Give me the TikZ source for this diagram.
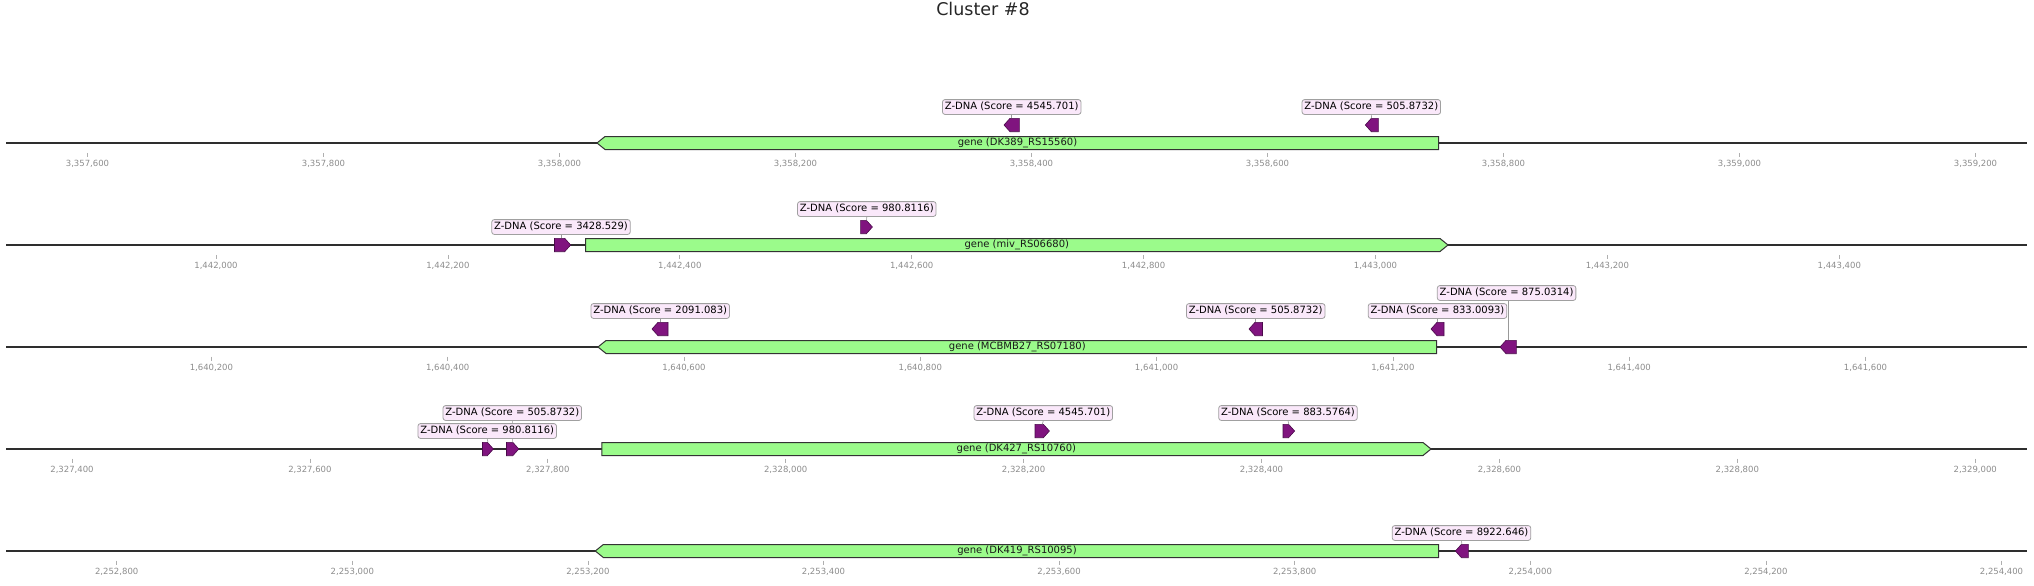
\documentclass[tikz,border=0pt]{standalone}
\usepackage{fontspec}
\setmainfont{DejaVu Sans}
\definecolor{genefill}{HTML}{9BFB8B}
\definecolor{zfill}{HTML}{80147F}
\definecolor{zedge}{HTML}{4A0A4A}
\definecolor{boxfill}{HTML}{FAE8FA}
\definecolor{boxedge}{HTML}{A0A0A0}
\definecolor{tickgray}{HTML}{8C8C8C}
\tikzset{
  axisline/.style = {draw=black!82, line width=1.6pt},
  tickmark/.style = {draw=tickgray!70, line width=0.7pt},
  ticklab/.style  = {font=\fontsize{8.5}{10}\selectfont, text=tickgray, inner sep=0pt},
  gene/.style     = {draw=black!80, fill=genefill, line width=1pt},
  genelab/.style  = {font=\fontsize{10}{12}\selectfont, text=black!90, inner sep=0pt},
  zdna/.style     = {draw=zedge, fill=zfill, line width=0.6pt},
  zlab/.style     = {draw=boxedge, fill=boxfill, rounded corners=2.5pt, line width=0.8pt,
                     font=\fontsize{10}{12}\selectfont, inner sep=2.4pt,
                     text height=7.6pt, text depth=2.4pt},
  lead/.style     = {draw=black!40, line width=0.6pt},
}
\begin{document}
\begin{tikzpicture}[x=1pt,y=-1pt]
  \useasboundingbox (0,0) rectangle (2034,586);
  \node[font=\fontsize{17.5}{20}\selectfont, anchor=base, text=black!85] (title) at (983,16) {Cluster \#8};
  % base lines
  \foreach \y in {143,245,347,449,551}
    \draw[axisline] (6,\y) -- (2027,\y);
  % axis ticks
  \foreach \t [count=\i from 0] in {{3,357,600},{3,357,800},{3,358,000},{3,358,200},{3,358,400},{3,358,600},{3,358,800},{3,359,000},{3,359,200}}{
    \draw[tickmark] ({87.5+236*\i},152.8) -- ++(0,4);
    \node[ticklab] (k1-\i) at ({87.5+236*\i},164.3) {\t};}
  \foreach \t [count=\i from 0] in {{1,442,000},{1,442,200},{1,442,400},{1,442,600},{1,442,800},{1,443,000},{1,443,200},{1,443,400}}{
    \draw[tickmark] ({216+231.9*\i},254.8) -- ++(0,4);
    \node[ticklab] (k2-\i) at ({216+231.9*\i},266) {\t};}
  \foreach \t [count=\i from 0] in {{1,640,200},{1,640,400},{1,640,600},{1,640,800},{1,641,000},{1,641,200},{1,641,400},{1,641,600}}{
    \draw[tickmark] ({211.4+236.3*\i},356.5) -- ++(0,4);
    \node[ticklab] (k3-\i) at ({211.4+236.3*\i},367.8) {\t};}
  \foreach \t [count=\i from 0] in {{2,327,400},{2,327,600},{2,327,800},{2,328,000},{2,328,200},{2,328,400},{2,328,600},{2,328,800},{2,329,000}}{
    \draw[tickmark] ({72+237.9*\i},458.5) -- ++(0,4);
    \node[ticklab] (k4-\i) at ({72+237.9*\i},469.8) {\t};}
  \foreach \t [count=\i from 0] in {{2,252,800},{2,253,000},{2,253,200},{2,253,400},{2,253,600},{2,253,800},{2,254,000},{2,254,200},{2,254,400}}{
    \draw[tickmark] ({116.7+235.6*\i},560.5) -- ++(0,4);
    \node[ticklab] (k5-\i) at ({116.7+235.6*\i},571.8) {\t};}
  % genes
  \draw[gene] (597,143) -- ++(8,-6.5) -- (1438.5,136.5) -- ++(0,13) -- (605,149.5) -- cycle;
  \node[genelab] (g1) at (1017.5,143) {gene (DK389\_RS15560)};
  \draw[gene] (585.6,238.5) -- (1440,238.5) -- (1448,245) -- (1440,251.5) -- (585.6,251.5) -- cycle;
  \node[genelab] (g2) at (1016.8,245) {gene (miv\_RS06680)};
  \draw[gene] (598,347) -- ++(8,-6.5) -- (1436.6,340.5) -- ++(0,13) -- (606,353.5) -- cycle;
  \node[genelab] (g3) at (1017.3,347) {gene (MCBMB27\_RS07180)};
  \draw[gene] (601.8,442.5) -- (1423,442.5) -- (1431,449) -- (1423,455.5) -- (601.8,455.5) -- cycle;
  \node[genelab] (g4) at (1016.4,449) {gene (DK427\_RS10760)};
  \draw[gene] (595.3,551) -- ++(8,-6.5) -- (1438.5,544.5) -- ++(0,13) -- (603.3,557.5) -- cycle;
  \node[genelab] (g5) at (1017,551) {gene (DK419\_RS10095)};
  % Z-DNA, minus strand
  \foreach \a/\b/\c in {1004/1019.3/125,1365.3/1378.3/125,652/668/329,1249/1262.5/329,1431/1444/329,1500/1516.4/347,1455.4/1468.4/551}
    \draw[zdna] (\a,\c) -- ({\a+6},{\c-6.7}) -- (\b,{\c-6.7}) -- (\b,{\c+6.7}) -- ({\a+6},{\c+6.7}) -- cycle;
  % Z-DNA, plus strand
  \foreach \a/\b/\c in {554.5/570.7/245,860.6/872.4/227,482.5/493.4/449,506.5/518.8/449,1035/1049.4/431,1283/1294.6/431}
    \draw[zdna] (\a,{\c-6.7}) -- ({\b-6},{\c-6.7}) -- (\b,\c) -- ({\b-6},{\c+6.7}) -- (\a,{\c+6.7}) -- cycle;
  % labels
  \node[zlab] (z1a) at (1011.7,107) {Z-DNA (Score = 4545.701)};
  \coordinate (f1a) at (1011.7,118.3);
  \draw[lead] (z1a.south) -- (f1a);
  \node[zlab] (z1b) at (1371.3,107) {Z-DNA (Score = 505.8732)};
  \coordinate (f1b) at (1371.6,118.3);
  \draw[lead] (z1b.south) -- (f1b);
  \node[zlab] (z2a) at (561,227) {Z-DNA (Score = 3428.529)};
  \coordinate (f2a) at (561,238.3);
  \draw[lead] (z2a.south) -- (f2a);
  \node[zlab] (z2b) at (866.8,209) {Z-DNA (Score = 980.8116)};
  \coordinate (f2b) at (866.5,220.3);
  \draw[lead] (z2b.south) -- (f2b);
  \node[zlab] (z3a) at (660.2,311) {Z-DNA (Score = 2091.083)};
  \coordinate (f3a) at (660.2,322.3);
  \draw[lead] (z3a.south) -- (f3a);
  \node[zlab] (z3b) at (1255.7,311) {Z-DNA (Score = 505.8732)};
  \coordinate (f3b) at (1255.7,322.3);
  \draw[lead] (z3b.south) -- (f3b);
  \node[zlab] (z3d) at (1506.6,293) {Z-DNA (Score = 875.0314)};
  \coordinate (f3d) at (1507.8,340.3);
  \draw[lead] (z3d.south -| f3d) -- (f3d);
  \node[zlab] (z3c) at (1437.5,311) {Z-DNA (Score = 833.0093)};
  \coordinate (f3c) at (1437.5,322.3);
  \draw[lead] (z3c.south) -- (f3c);
  \node[zlab] (z4b) at (512.3,413) {Z-DNA (Score = 505.8732)};
  \coordinate (f4b) at (512.6,442.3);
  \draw[lead] (z4b.south) -- (f4b);
  \node[zlab] (z4a) at (487.2,431) {Z-DNA (Score = 980.8116)};
  \coordinate (f4a) at (488,442.3);
  \draw[lead] (z4a.south) -- (f4a);
  \node[zlab] (z4c) at (1043.3,413) {Z-DNA (Score = 4545.701)};
  \coordinate (f4c) at (1042.2,424.3);
  \draw[lead] (z4c.south) -- (f4c);
  \node[zlab] (z4d) at (1288,413) {Z-DNA (Score = 883.5764)};
  \coordinate (f4d) at (1288.8,424.3);
  \draw[lead] (z4d.south) -- (f4d);
  \node[zlab] (z5a) at (1461.5,533) {Z-DNA (Score = 8922.646)};
  \coordinate (f5a) at (1461.9,544.3);
  \draw[lead] (z5a.south) -- (f5a);
\end{tikzpicture}
\end{document}
